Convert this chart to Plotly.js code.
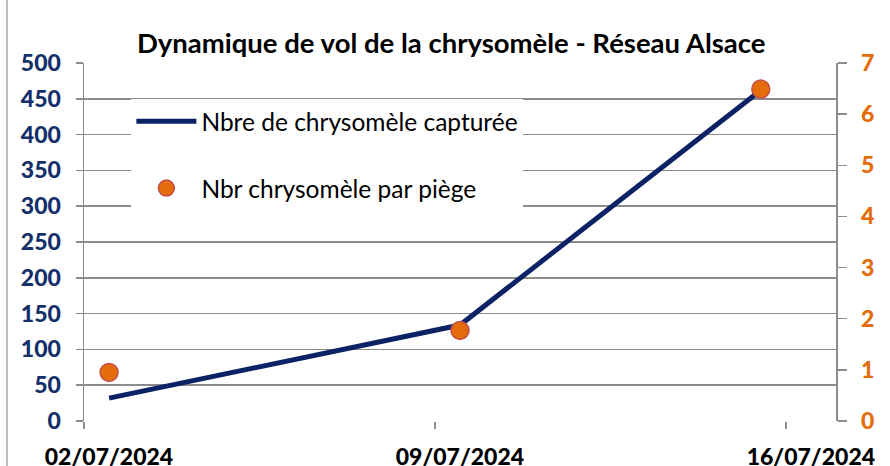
<!DOCTYPE html>
<html>
<head>
<meta charset="utf-8">
<script src="https://cdn.plot.ly/plotly-3.0.1.min.js"></script>
<style>
  html, body { margin: 0; padding: 0; background: #ffffff; }
  #chart { width: 890px; height: 466px; }
</style>
</head>
<body>
<div id="chart"></div>
<script>
// Data
const dates = ['2024-07-02', '2024-07-09', '2024-07-15'];
const captures = [32, 134, 462];          // Nbre de chrysomèle capturée (left axis)
const perTrap = [0.95, 1.77, 6.49];       // Nbr chrysomèle par piège (right axis)
const xTickDates = ['2024-07-02', '2024-07-09', '2024-07-16'];
const xTickLabels = ['02/07/2024', '09/07/2024', '16/07/2024'];
const nameLine = 'Nbre de chrysomèle capturée';
const nameMarkers = 'Nbr chrysomèle par piège';
const titleText = 'Dynamique de vol de la chrysomèle - Réseau Alsace';

const navy = '#14306b';
const orange = '#e46c0a';
const gray = '#8c8c8c';
const FONT = 'Lato, "Open Sans", sans-serif';

const traces = [
  {
    type: 'scatter', mode: 'lines', name: nameLine, legendgroup: 'a',
    x: dates, y: captures,
    xperiod: 86400000, xperiodalignment: 'middle',
    line: { color: '#0b2265', width: 5 },
    yaxis: 'y'
  },
  {
    type: 'scatter', mode: 'markers', name: nameMarkers, legendgroup: 'b',
    x: dates, y: perTrap,
    xperiod: 86400000, xperiodalignment: 'middle',
    marker: { color: orange, size: 18, line: { color: '#c0504d', width: 1.5 } },
    yaxis: 'y2'
  }
];

const layout = {
  width: 890, height: 466,
  margin: { l: 84, r: 54, t: 63, b: 45 },
  paper_bgcolor: '#ffffff', plot_bgcolor: '#ffffff',
  font: { family: FONT, color: '#000000' },
  title: {
    text: '<b>' + titleText + '</b>',
    font: { family: FONT, size: 27.5, color: '#000000' },
    xref: 'container', x: 0.507, xanchor: 'center',
    yref: 'container', y: 0.906, yanchor: 'middle'
  },
  showlegend: true,
  legend: {
    x: 0.063, xanchor: 'left', y: 0.9, yanchor: 'top',
    bgcolor: '#ffffff', borderwidth: 0,
    font: { family: FONT, size: 24.5, color: '#000000' },
    traceorder: 'grouped', tracegroupgap: 32,
    itemwidth: 60
  },
  xaxis: {
    type: 'date',
    range: ['2024-07-02', '2024-07-17'],
    tickmode: 'array', tickvals: xTickDates, ticktext: xTickLabels,
    ticks: 'outside', ticklen: 7, tickwidth: 1.5, tickcolor: gray,
    ticklabelshift: 25, ticklabelstandoff: 8,
    showgrid: false, zeroline: false, showline: false,
    tickfont: { family: FONT, size: 23, color: '#000000', weight: 900 }
  },
  yaxis: {
    range: [0, 500], dtick: 50, tick0: 0,
    ticks: 'outside', ticklen: 7, tickwidth: 1.5, tickcolor: gray,
    ticklabelstandoff: 10,
    showgrid: true, gridcolor: gray, gridwidth: 1.5,
    showline: true, linecolor: gray, linewidth: 1.5,
    zeroline: false,
    tickfont: { family: FONT, size: 23, color: navy, weight: 900 }
  },
  yaxis2: {
    overlaying: 'y', side: 'right',
    range: [0, 7], dtick: 1, tick0: 0,
    ticks: 'outside', ticklen: 9, tickwidth: 1.5, tickcolor: gray,
    ticklabelstandoff: 10,
    showgrid: false, zeroline: false,
    showline: true, linecolor: gray, linewidth: 1.5,
    tickfont: { family: FONT, size: 23, color: orange, weight: 900 }
  },
  shapes: [
    { type: 'line', xref: 'paper', yref: 'paper', x0: -0.1024, x1: -0.1024, y0: -0.2, y1: 1.3,
      line: { color: '#a6a6a6', width: 1.5 } }
  ]
};

Plotly.newPlot('chart', traces, layout, { displayModeBar: false, staticPlot: true });
</script>
</body>
</html>
